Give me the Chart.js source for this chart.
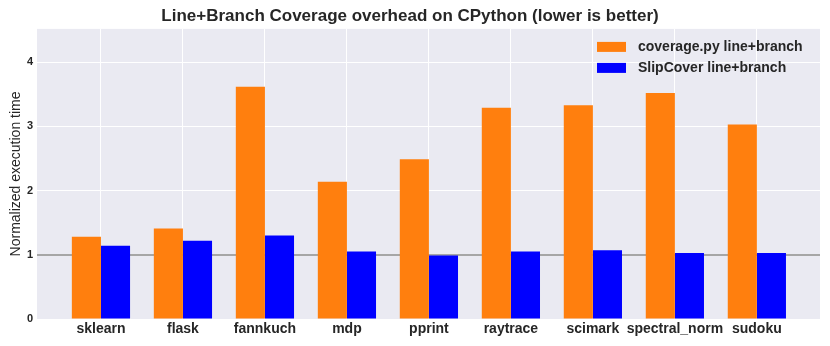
<!DOCTYPE html>
<html>
<head>
<meta charset="utf-8">
<script src="https://cdn.jsdelivr.net/npm/chart.js@4"></script>
<style>
  html, body { margin: 0; padding: 0; background: #ffffff; }
  #wrap { width: 830px; height: 346px; }
</style>
</head>
<body>
<div id="wrap"><canvas id="plotCanvas" width="830" height="346"></canvas></div>
<script>
var benchmarks = ['sklearn', 'flask', 'fannkuch', 'mdp', 'pprint', 'raytrace', 'scimark', 'spectral_norm', 'sudoku'];
var coverageValues = [1.28, 1.41, 3.62, 2.14, 2.49, 3.29, 3.33, 3.52, 3.03];
var slipcoverValues = [1.14, 1.22, 1.30, 1.05, 0.99, 1.05, 1.07, 1.03, 1.03];
var yTicks = [0, 1, 2, 3, 4];

var fontFamily = '"Liberation Sans", Arial, Helvetica, sans-serif';
var textColor = '#262626';

// legend drawn inside the plot, top right
var insideLegend = {
    id: 'insideLegend',
    afterDatasetsDraw: function(chart) {
        var ctx = chart.ctx;
        var area = chart.chartArea;
        var x = area.right - 223;
        var y = area.top + 13;
        ctx.save();
        ctx.font = 'bold 14px ' + fontFamily;
        ctx.textBaseline = 'middle';
        chart.data.datasets.forEach(function(ds, i) {
            var rowY = y + i * 21;
            ctx.fillStyle = ds.backgroundColor;
            ctx.fillRect(x, rowY, 29, 10);
            ctx.fillStyle = textColor;
            ctx.fillText(ds.label, x + 41, rowY + 5);
        });
        ctx.restore();
    }
};

// seaborn-like grey background behind the plot
var plotBackground = {
    id: 'plotBackground',
    beforeDraw: function(chart) {
        var ctx = chart.ctx;
        var a = chart.chartArea;
        ctx.save();
        ctx.fillStyle = '#eaeaf2';
        ctx.fillRect(a.left, a.top, a.right - a.left, a.bottom - a.top);
        ctx.restore();
    }
};

var ctx = document.getElementById('plotCanvas').getContext('2d');

var chart = new Chart(ctx, {
    type: 'bar',
    data: {
        datasets: [{
            label: 'coverage.py line+branch',
            backgroundColor: '#ff7f0e',
            data: coverageValues.map((v, i) => ({ x: i, y: v }))
        }, {
            label: 'SlipCover line+branch',
            backgroundColor: '#0000ff',
            data: slipcoverValues.map((v, i) => ({ x: i, y: v }))
        }]
    },
    options: {
        responsive: false,
        animation: false,
        layout: { padding: { left: 0, right: 10, top: 0, bottom: 0 } },
        datasets: {
            bar: { categoryPercentage: 0.71, barPercentage: 1.0, borderWidth: 0 }
        },
        plugins: {
            legend: { display: false },
            tooltip: { enabled: false },
            title: {
                display: true,
                text: 'Line+Branch Coverage overhead on CPython (lower is better)',
                color: textColor,
                font: { family: fontFamily, size: 17, weight: 'bold', lineHeight: 1.2 },
                padding: { top: 6.5, bottom: 2 }
            }
        },
        scales: {
            x: {
                type: 'linear',
                min: -0.78,
                max: 8.77,
                offset: false,
                afterBuildTicks: function(scale) {
                    scale.ticks = benchmarks.map((b, i) => ({ value: i }));
                },
                afterFit: function(scale) { scale.height = 27; },
                grid: { color: '#ffffff', lineWidth: 1, drawTicks: false, offset: false },
                border: { display: false },
                ticks: {
                    color: textColor,
                    padding: 2,
                    maxRotation: 0,
                    autoSkip: false,
                    font: { family: fontFamily, size: 14, weight: 'bold' },
                    callback: function(value) { return benchmarks[value]; }
                }
            },
            y: {
                min: 0,
                max: 4.52,
                afterBuildTicks: function(scale) {
                    scale.ticks = yTicks.map(v => ({ value: v }));
                },
                afterFit: function(scale) { scale.width = 37; },
                grid: {
                    drawTicks: false,
                    color: function(c) { return c.tick && c.tick.value === 1 ? '#a6a6a6' : '#ffffff'; },
                    lineWidth: function(c) { return c.tick && c.tick.value === 1 ? 2 : 1; }
                },
                border: { display: false },
                title: {
                    display: true,
                    text: 'Normalized execution time',
                    color: textColor,
                    font: { family: fontFamily, size: 14 },
                    padding: { top: 8, bottom: 0 }
                },
                ticks: {
                    color: textColor,
                    padding: 4,
                    font: { family: fontFamily, size: 11, weight: 'bold' }
                }
            }
        }
    },
    plugins: [plotBackground, insideLegend]
});
</script>
</body>
</html>
